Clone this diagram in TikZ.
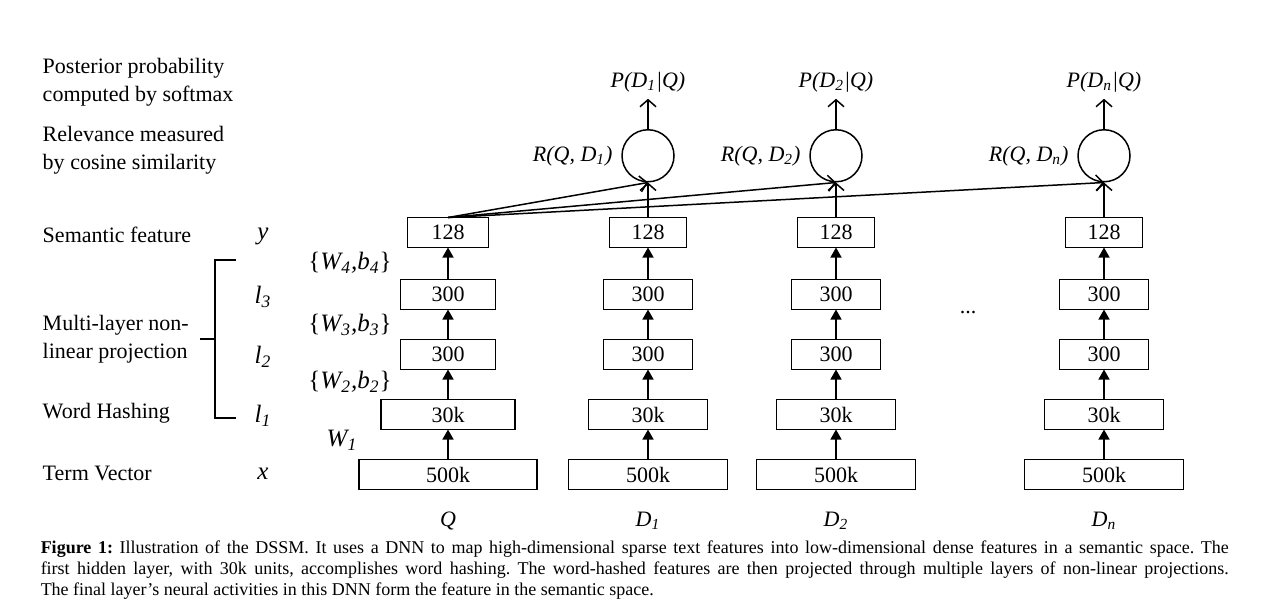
\documentclass[tikz,border=0pt]{standalone}
\usepackage{fontspec}
\setmainfont{Liberation Serif}
\usetikzlibrary{arrows.meta,positioning}
\newcommand{\vsub}[1]{\textsubscript{\itshape #1}}

\tikzset{
  layerbox/.style={draw, minimum height=15pt, inner sep=0pt, outer sep=0pt, font=\fontsize{11}{13}\selectfont},
  simnode/.style={draw, circle, minimum size=26pt, inner sep=0pt},
  fwd/.style={-{Triangle[length=5pt,width=5.5pt]}},
  simarrow/.style={-{Straight Barb[length=3.5pt,width=8pt]}},
  sidelab/.style={font=\fontsize{11}{14}\selectfont, align=left, anchor=west, inner sep=0pt},
  varlab/.style={font=\fontsize{11}{13}\selectfont\itshape, inner sep=0pt},
  biglab/.style={font=\fontsize{12.5}{14}\selectfont\itshape, inner sep=0pt},
}

\begin{document}
\begin{tikzpicture}[x=0.5pt, y=-0.5pt, line width=0.75pt]
  \useasboundingbox (0,0) rectangle (1283,602);

  % left column texts
  \node[sidelab] (post) at (42,82) {Posterior probability\\computed by softmax};
  \node[sidelab] (rel) at (42,150.5) {Relevance measured\\by cosine similarity};
  \node[sidelab] (sem) at (42,235) {Semantic feature};
  \node[sidelab] (mlp) at (42,339.5) {Multi-layer non-\\linear projection};
  \node[sidelab] (hash) at (42,413) {Word Hashing};
  \node[sidelab] (term) at (42,473) {Term Vector};

  \node[biglab] (vy) at (263,236) {y};
  \node[biglab] (vl3) at (263,297) {l\vsub{3}};
  \node[biglab] (vl2) at (263,357) {l\vsub{2}};
  \node[biglab] (vl1) at (263,416) {l\vsub{1}};
  \node[biglab] (vx) at (263,474) {x};

  \draw (236,260) -- (215,260) -- (215,418) -- (236,418);
  \draw (200,339) -- (215,339);

  % query side
  \node[layerbox, minimum width=89pt] (q0) at (448,474.5) {500k};
  \node[layerbox, minimum width=67pt, above=15pt of q0] (q1) {30k};
  \node[layerbox, minimum width=47.5pt, above=15pt of q1] (q2) {300};
  \node[layerbox, minimum width=47.5pt, above=15pt of q2] (q3) {300};
  \node[layerbox, minimum width=40.5pt, above=16pt of q3] (q4) {128};
  \foreach \a/\b in {q0/q1, q1/q2, q2/q3, q3/q4}
    \draw[fwd] (\a) -- (\b);

  \node[biglab] (w1) at (342,440) {W\vsub{1}};
  \node[biglab] (w2) at (350,382) {\upshape\{\itshape W\vsub{2},b\vsub{2}\upshape\}};
  \node[biglab] (w3) at (350,325) {\upshape\{\itshape W\vsub{3},b\vsub{3}\upshape\}};
  \node[biglab] (w4) at (350,263) {\upshape\{\itshape W\vsub{4},b\vsub{4}\upshape\}};
  \node[varlab] (cq) at (448,521) {Q};

  % document sides
  \foreach \n/\xc in {1/648, 2/836, n/1104} {
    \node[layerbox, minimum width=79.5pt] (d\n0) at (\xc,474.5) {500k};
    \node[layerbox, minimum width=59.5pt, above=15pt of d\n0] (d\n1) {30k};
    \node[layerbox, minimum width=44.5pt, above=15pt of d\n1] (d\n2) {300};
    \node[layerbox, minimum width=44.5pt, above=15pt of d\n2] (d\n3) {300};
    \node[layerbox, minimum width=38.5pt, above=16pt of d\n3] (d\n4) {128};
    \node[simnode, above=17.5pt of d\n4] (r\n) {};
    \node[varlab, left=4pt of r\n] (rl\n) {R(Q, D\vsub{\n})};
    \node[varlab, inner sep=3pt] (p\n) at (\xc,82) {P(D\vsub{\n}|Q)};
    \node[varlab] (c\n) at (\xc,521) {D\vsub{\n}};
    \draw[fwd] (d\n0) -- (d\n1);
    \draw[fwd] (d\n1) -- (d\n2);
    \draw[fwd] (d\n2) -- (d\n3);
    \draw[fwd] (d\n3) -- (d\n4);
    \draw[simarrow] (d\n4) -- (r\n);
    \draw[simarrow] (q4.north) -- (r\n.south);
    \draw[simarrow] (r\n) -- (p\n);
  }
  \node[font=\fontsize{11}{13}\selectfont] (dots) at (968,312) {...};

  % caption
  \node[anchor=north west, inner sep=0pt, text width=594pt, align=justify,
        font=\fontsize{9}{10.5}\selectfont\frenchspacing] (cap) at (40,540)
    {\textbf{Figure 1:} Illustration of the DSSM. It uses a DNN to map high-dimensional sparse text features into low-dimensional dense features in a semantic space. The\linebreak
     first hidden layer, with 30k units, accomplishes word hashing. The word-hashed features are then projected through multiple layers of non-linear projections.\linebreak
     The final layer's neural activities in this DNN form the feature in the semantic space.};
\end{tikzpicture}
\end{document}
